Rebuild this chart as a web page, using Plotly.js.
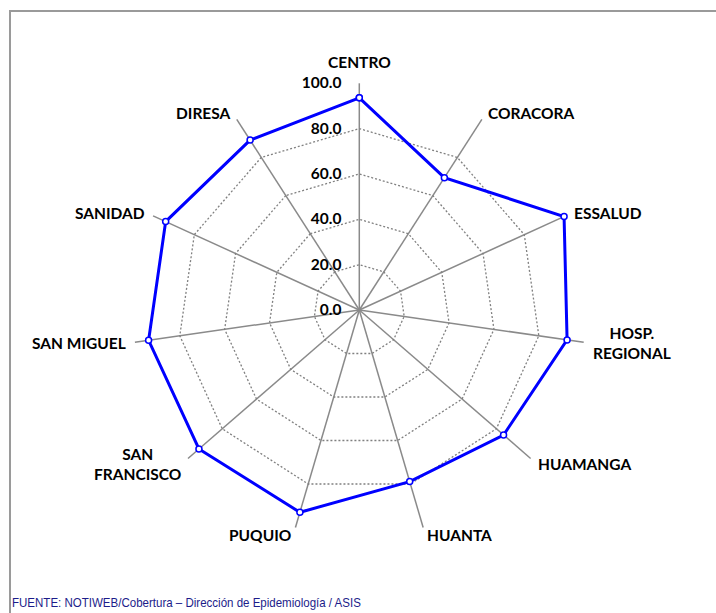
<!DOCTYPE html>
<html>
<head>
<meta charset="utf-8">
<script src="https://cdn.plot.ly/plotly-3.0.1.min.js"></script>
<style>
  html, body { margin: 0; padding: 0; background: #ffffff; }
  #wrap { position: relative; width: 716px; height: 613px; overflow: hidden; }
  #chart { position: absolute; left: 0; top: 0; width: 716px; height: 613px; }
  #frame { position: absolute; left: 9px; top: 10px; width: 760px; height: 700px;
           border-top: 2px solid #9a9a9a; border-left: 2px solid #9a9a9a; pointer-events: none; }
  #source { position: absolute; left: 12px; top: 595px; white-space: nowrap;
            font-family: 'Liberation Sans', Arial, sans-serif; font-size: 13px; line-height: 16px;
            color: #1c1c8a; transform: scaleX(0.886); transform-origin: left center; }
</style>
</head>
<body>
<div id="wrap">
  <div id="chart"></div>
  <div id="frame"></div>
  <div id="source"></div>
</div>
<script>
const categories = ["CENTRO", "CORACORA", "ESSALUD", "HOSP. REGIONAL", "HUAMANGA", "HUANTA",
                    "PUQUIO", "SAN FRANCISCO", "SAN MIGUEL", "SANIDAD", "DIRESA"];
const categoryLabels = ["CENTRO", "CORACORA", "ESSALUD", "HOSP.<br>REGIONAL", "HUAMANGA", "HUANTA",
                        "PUQUIO", "SAN<br>FRANCISCO", "SAN MIGUEL", "SANIDAD", "DIRESA"];
const coverage = [93.6, 69.4, 99.3, 92.6, 84.2, 78.9, 93.0, 93.6, 93.9, 93.9, 89.1];
const radialTicks = [0, 20, 40, 60, 80, 100];
const sourceNote = "FUENTE: NOTIWEB/Cobertura – Dirección de Epidemiología / ASIS";

document.getElementById("source").textContent = sourceNote;

const W = 716, H = 613;
const cx = 359.3, cy = 310, R = 226.7;

const trace = {
  type: "scatterpolar",
  r: coverage.concat([coverage[0]]),
  theta: categories.concat([categories[0]]),
  mode: "lines+markers",
  line: { color: "#0000FF", width: 3 },
  marker: { size: 6, color: "#ffffff", line: { color: "#0000FF", width: 1.5 } },
  hoverinfo: "skip",
  cliponaxis: false
};

// category labels placed just outside the outer ring, following each spoke's direction
const n = categories.length;
const labelAnnotations = categoryLabels.map((txt, i) => {
  const a = i * 2 * Math.PI / n;
  const s = Math.sin(a), c = Math.cos(a);
  const vx = cx + R * s, vy = cy - R * c;
  const centered = Math.abs(s) < 0.1;
  const px = vx + s * 7;
  const py = vy - c * (centered ? 21 : 8);
  return {
    text: "<b>" + txt + "</b>",
    xref: "paper", yref: "paper",
    x: px / W, y: (H - py) / H,
    xanchor: centered ? "center" : (s > 0 ? "left" : "right"),
    yanchor: "middle",
    align: "center",
    showarrow: false,
    font: { family: "Lato, sans-serif", size: 15.5, color: "#000000" }
  };
});

const pad = "\u00a0\u00a0\u00a0\u00a0";

const layout = {
  width: W, height: H,
  margin: { l: 0, r: 0, t: 0, b: 0 },
  paper_bgcolor: "#ffffff",
  showlegend: false,
  font: { family: "Lato, 'Open Sans', sans-serif", color: "#000000" },
  polar: {
    domain: { x: [(cx - R) / W, (cx + R) / W], y: [(H - cy - R) / H, (H - cy + R) / H] },
    bgcolor: "rgba(0,0,0,0)",
    gridshape: "linear",
    radialaxis: {
      range: [0, 100.001],
      tickvals: radialTicks,
      ticktext: radialTicks.map(v => v.toFixed(1) + pad),
      angle: 90,
      tickangle: 90,
      side: "counterclockwise",
      showline: false,
      ticks: "",
      gridcolor: "#808080",
      griddash: "2px,2px",
      gridwidth: 1.3,
      tickfont: { family: "Lato, sans-serif", size: 15.5, color: "#000000", weight: "bold" }
    },
    angularaxis: {
      rotation: 90,
      direction: "clockwise",
      type: "category",
      categoryarray: categories,
      showline: false,
      showticklabels: false,
      ticks: "",
      gridcolor: "#8a8a8a",
      gridwidth: 1.5
    }
  }
  ,annotations: labelAnnotations
};

Plotly.newPlot("chart", [trace], layout, { displayModeBar: false, staticPlot: true });
</script>
</body>
</html>
